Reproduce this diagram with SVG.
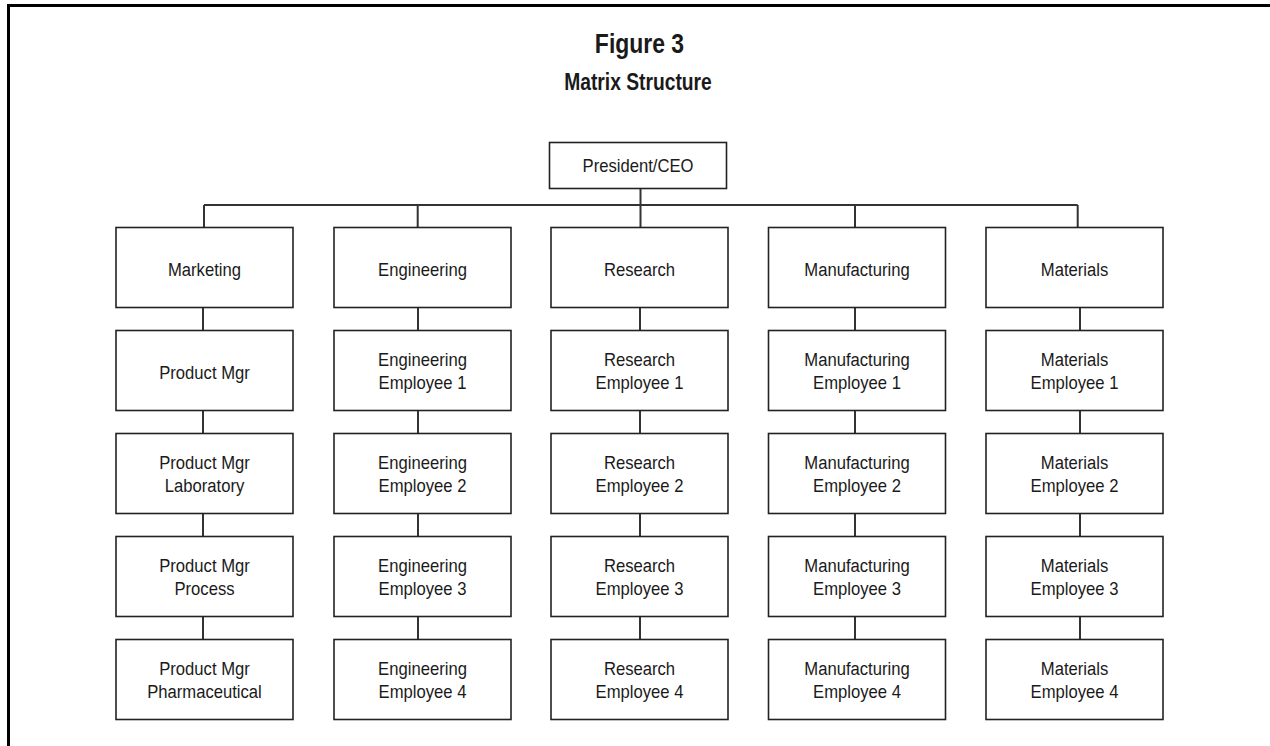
<svg xmlns="http://www.w3.org/2000/svg" width="1270" height="746" viewBox="0 0 1270 746">
  <style>
    .frame { fill: none; stroke: #000; stroke-width: 3; }
    .box { fill: #fff; stroke: #222; stroke-width: 1.6; }
    .wire { fill: none; stroke: #333; stroke-width: 2; }
    /* condensed sans: horizontal squeeze about each label's own centre */
    .lbl, .title {
      font-family: "Liberation Sans", Arial, sans-serif; fill: #1a1a1a; text-anchor: middle;
      transform-box: fill-box; transform-origin: center;
    }
    .lbl { font-size: 18.5px; transform: scaleX(0.9); }
    .title { font-weight: bold; transform: scaleX(0.82); }
  </style>

  <!-- page frame (top and left rules) -->
  <path class="frame" d="M8.5 746 V5.5 H1270"/>

  <!-- heading -->
  <g id="heading">
    <text class="title" x="639.5" y="53" font-size="28">Figure 3</text>
    <text class="title" x="638" y="90" font-size="23.5">Matrix Structure</text>
  </g>

  <!-- connectors -->
  <g id="connectors">
    <path class="wire" d="M640.5 188.5 V227.5"/>
    <path class="wire" d="M204 205 H1077.7"/>
    <path class="wire" d="M204 205 V227.5 M417.7 205 V227.5 M855 205 V227.5 M1077.7 205 V227.5"/>
    <!-- Marketing column -->
    <path class="wire" d="M203 307.5 V330.5 M203 410.5 V433.5 M203 513.5 V536.5 M203 616.5 V639.5"/>
    <!-- Engineering column -->
    <path class="wire" d="M418 307.5 V330.5 M418 410.5 V433.5 M418 513.5 V536.5 M418 616.5 V639.5"/>
    <!-- Research column -->
    <path class="wire" d="M640 307.5 V330.5 M640 410.5 V433.5 M640 513.5 V536.5 M640 616.5 V639.5"/>
    <!-- Manufacturing column -->
    <path class="wire" d="M855 307.5 V330.5 M855 410.5 V433.5 M855 513.5 V536.5 M855 616.5 V639.5"/>
    <!-- Materials column -->
    <path class="wire" d="M1080 307.5 V330.5 M1080 410.5 V433.5 M1080 513.5 V536.5 M1080 616.5 V639.5"/>
  </g>

  <!-- top executive -->
  <g id="ceo">
    <rect class="box" x="549.5" y="142.5" width="177" height="46"/>
    <text class="lbl" x="638" y="172">President/CEO</text>
  </g>

  <!-- Marketing column -->
  <g id="marketing">
    <rect class="box" x="116" y="227.5" width="177" height="80"/>
    <text class="lbl" x="204.5" y="276.5">Marketing</text>
  </g>
  <g id="product-mgr">
    <rect class="box" x="116" y="330.5" width="177" height="80"/>
    <text class="lbl" x="204.5" y="379.5">Product Mgr</text>
  </g>
  <g id="product-mgr-laboratory">
    <rect class="box" x="116" y="433.5" width="177" height="80"/>
    <text class="lbl" x="204.5" y="469.5">Product Mgr</text>
    <text class="lbl" x="204.5" y="492.5">Laboratory</text>
  </g>
  <g id="product-mgr-process">
    <rect class="box" x="116" y="536.5" width="177" height="80"/>
    <text class="lbl" x="204.5" y="572.5">Product Mgr</text>
    <text class="lbl" x="204.5" y="595.5">Process</text>
  </g>
  <g id="product-mgr-pharmaceutical">
    <rect class="box" x="116" y="639.5" width="177" height="80"/>
    <text class="lbl" x="204.5" y="675.5">Product Mgr</text>
    <text class="lbl" x="204.5" y="698.5">Pharmaceutical</text>
  </g>

  <!-- Engineering column -->
  <g id="engineering">
    <rect class="box" x="334" y="227.5" width="177" height="80"/>
    <text class="lbl" x="422.5" y="276.5">Engineering</text>
  </g>
  <g id="engineering-1">
    <rect class="box" x="334" y="330.5" width="177" height="80"/>
    <text class="lbl" x="422.5" y="366.5">Engineering</text>
    <text class="lbl" x="422.5" y="389.5">Employee 1</text>
  </g>
  <g id="engineering-2">
    <rect class="box" x="334" y="433.5" width="177" height="80"/>
    <text class="lbl" x="422.5" y="469.5">Engineering</text>
    <text class="lbl" x="422.5" y="492.5">Employee 2</text>
  </g>
  <g id="engineering-3">
    <rect class="box" x="334" y="536.5" width="177" height="80"/>
    <text class="lbl" x="422.5" y="572.5">Engineering</text>
    <text class="lbl" x="422.5" y="595.5">Employee 3</text>
  </g>
  <g id="engineering-4">
    <rect class="box" x="334" y="639.5" width="177" height="80"/>
    <text class="lbl" x="422.5" y="675.5">Engineering</text>
    <text class="lbl" x="422.5" y="698.5">Employee 4</text>
  </g>

  <!-- Research column -->
  <g id="research">
    <rect class="box" x="551" y="227.5" width="177" height="80"/>
    <text class="lbl" x="639.5" y="276.5">Research</text>
  </g>
  <g id="research-1">
    <rect class="box" x="551" y="330.5" width="177" height="80"/>
    <text class="lbl" x="639.5" y="366.5">Research</text>
    <text class="lbl" x="639.5" y="389.5">Employee 1</text>
  </g>
  <g id="research-2">
    <rect class="box" x="551" y="433.5" width="177" height="80"/>
    <text class="lbl" x="639.5" y="469.5">Research</text>
    <text class="lbl" x="639.5" y="492.5">Employee 2</text>
  </g>
  <g id="research-3">
    <rect class="box" x="551" y="536.5" width="177" height="80"/>
    <text class="lbl" x="639.5" y="572.5">Research</text>
    <text class="lbl" x="639.5" y="595.5">Employee 3</text>
  </g>
  <g id="research-4">
    <rect class="box" x="551" y="639.5" width="177" height="80"/>
    <text class="lbl" x="639.5" y="675.5">Research</text>
    <text class="lbl" x="639.5" y="698.5">Employee 4</text>
  </g>

  <!-- Manufacturing column -->
  <g id="manufacturing">
    <rect class="box" x="768.5" y="227.5" width="177" height="80"/>
    <text class="lbl" x="857" y="276.5">Manufacturing</text>
  </g>
  <g id="manufacturing-1">
    <rect class="box" x="768.5" y="330.5" width="177" height="80"/>
    <text class="lbl" x="857" y="366.5">Manufacturing</text>
    <text class="lbl" x="857" y="389.5">Employee 1</text>
  </g>
  <g id="manufacturing-2">
    <rect class="box" x="768.5" y="433.5" width="177" height="80"/>
    <text class="lbl" x="857" y="469.5">Manufacturing</text>
    <text class="lbl" x="857" y="492.5">Employee 2</text>
  </g>
  <g id="manufacturing-3">
    <rect class="box" x="768.5" y="536.5" width="177" height="80"/>
    <text class="lbl" x="857" y="572.5">Manufacturing</text>
    <text class="lbl" x="857" y="595.5">Employee 3</text>
  </g>
  <g id="manufacturing-4">
    <rect class="box" x="768.5" y="639.5" width="177" height="80"/>
    <text class="lbl" x="857" y="675.5">Manufacturing</text>
    <text class="lbl" x="857" y="698.5">Employee 4</text>
  </g>

  <!-- Materials column -->
  <g id="materials">
    <rect class="box" x="986" y="227.5" width="177" height="80"/>
    <text class="lbl" x="1074.5" y="276.5">Materials</text>
  </g>
  <g id="materials-1">
    <rect class="box" x="986" y="330.5" width="177" height="80"/>
    <text class="lbl" x="1074.5" y="366.5">Materials</text>
    <text class="lbl" x="1074.5" y="389.5">Employee 1</text>
  </g>
  <g id="materials-2">
    <rect class="box" x="986" y="433.5" width="177" height="80"/>
    <text class="lbl" x="1074.5" y="469.5">Materials</text>
    <text class="lbl" x="1074.5" y="492.5">Employee 2</text>
  </g>
  <g id="materials-3">
    <rect class="box" x="986" y="536.5" width="177" height="80"/>
    <text class="lbl" x="1074.5" y="572.5">Materials</text>
    <text class="lbl" x="1074.5" y="595.5">Employee 3</text>
  </g>
  <g id="materials-4">
    <rect class="box" x="986" y="639.5" width="177" height="80"/>
    <text class="lbl" x="1074.5" y="675.5">Materials</text>
    <text class="lbl" x="1074.5" y="698.5">Employee 4</text>
  </g>
</svg>
